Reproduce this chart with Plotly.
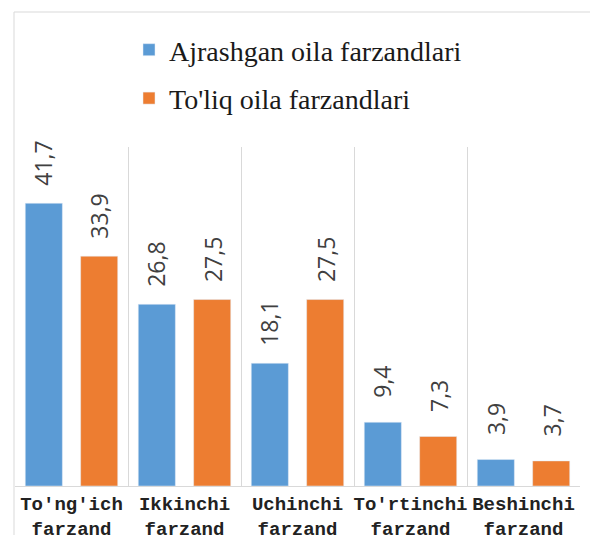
import plotly.graph_objects as go

categories = ["To'ng'ich<br>farzand", "Ikkinchi<br>farzand", "Uchinchi<br>farzand",
              "To'rtinchi<br>farzand", "Beshinchi<br>farzand"]
series_names = ["Ajrashgan oila farzandlari", "To'liq oila farzandlari"]
ajrashgan = [41.7, 26.8, 18.1, 9.4, 3.9]
toliq = [33.9, 27.5, 27.5, 7.3, 3.7]
colors = ["#5B9BD5", "#ED7D31"]

W, H = 598, 535
OFF = 8  # page body margin offset
# target plot area in screen pixels: x 15..580, y 147..486
L, R = 15 - OFF, W - (580 - OFF)
T, B = 147 - OFF, H - (486 - OFF)
PW, PH = W - L - R, H - T - B


def px_x(sx):
    return (sx - OFF - L) / PW


def px_y(sy):
    return (H - B - (sy - OFF)) / PH


fig = go.Figure()
for i, (name, vals) in enumerate(zip(series_names, [ajrashgan, toliq])):
    fig.add_trace(go.Bar(
        x=categories, y=vals, name=name, marker_color=colors[i],
        legendgroup=f"g{i}", hoverinfo="skip",
    ))

# rotated data labels placed above each bar
for i, vals in enumerate([ajrashgan, toliq]):
    shift = -28 if i == 0 else 28
    for c, v in zip(categories, vals):
        fig.add_annotation(
            x=c, y=v, text=f"{v:.1f}".replace(".", ","), showarrow=False,
            textangle=-90, xshift=shift, yshift=40,
            font=dict(family="Open Sans", size=23, color="#404040"),
        )

# category separator gridlines through an overlaid axis
fig.update_layout(
    xaxis2=dict(overlaying="x", range=[-0.5, 4.5], tickvals=[-0.5, 0.5, 1.5, 2.5, 3.5, 4.5],
                showticklabels=False, showgrid=True, gridcolor="#d9d9d9", gridwidth=1,
                zeroline=False, side="bottom", ticks=""),
)
fig.add_trace(go.Scatter(x=[None], y=[None], xaxis="x2", showlegend=False, hoverinfo="skip"))

# outer frame lines (left and top)
fx, fy = px_x(14), px_y(12)
fig.add_shape(type="line", xref="paper", yref="paper", x0=fx, x1=fx, y0=fy, y1=-0.3,
              line=dict(color="#d9d9d9", width=1))
fig.add_shape(type="line", xref="paper", yref="paper", x0=fx, x1=1.2, y0=fy, y1=fy,
              line=dict(color="#d9d9d9", width=1))

fig.update_layout(
    width=W, height=H,
    margin=dict(l=L, r=R, t=T, b=B, autoexpand=False),
    paper_bgcolor="white", plot_bgcolor="white",
    barmode="group", bargap=0.02, bargroupgap=0.33,
    showlegend=True,
    legend=dict(
        x=px_x(129), y=px_y(25),
        xanchor="left", yanchor="top", orientation="v",
        traceorder="grouped", tracegroupgap=9,
        font=dict(family="Liberation Serif", size=28, color="#1a1a1a"),
        bgcolor="rgba(0,0,0,0)",
    ),
    xaxis=dict(
        showgrid=False, showline=True, linecolor="#d9d9d9", linewidth=1,
        ticks="", tickangle=0, ticklabelstandoff=0,
        tickfont=dict(family="Liberation Mono", size=19, color="#222222", weight="bold"),
        range=[-0.5, 4.5],
    ),
    yaxis=dict(range=[0, 50], showgrid=False, showticklabels=False, zeroline=False,
               showline=False, ticks=""),
)

fig.write_html("out.html")
